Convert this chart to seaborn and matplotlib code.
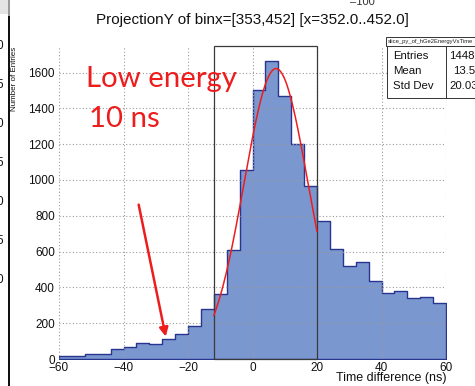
import matplotlib
matplotlib.use("Agg")
import matplotlib.pyplot as plt
import seaborn as sns
from matplotlib.patches import Rectangle
from matplotlib.lines import Line2D
from matplotlib.ticker import MultipleLocator
import numpy as np

# ---- histogram content (4 ns bins from -60 to 60 ns) ----
bin_edges = list(range(-60, 61, 4))
bin_centers = [e + 2 for e in bin_edges[:-1]]
counts = [15, 18, 28, 28, 54, 69, 88, 82, 112, 142, 183, 278, 362, 608, 1058,
          1502, 1665, 1469, 1198, 965, 769, 616, 519, 539, 433, 368, 379, 342, 349, 312]

# ---- gaussian fit over the prompt window ----
fit_amplitude = 1622.0
fit_mean = 7.3
fit_sigma = 9.9
fit_range = (-12.0, 20.0)

# ---- statistics box ----
stat_title = "slice_py_of_hGe2EnergyVsTime"
stat_names = ["Entries", "Mean", "Std Dev"]
stat_values = ["14487", "13.53", "20.03"]

title = "ProjectionY of binx=[353,452] [x=352.0..452.0]"
x_label = "Time difference (ns)"
y_label = "Number of Entries"
note_lines = ["Low energy", "10 ns"]

W, H = 475, 386
FILL = "#7b97d0"
EDGE = "#28358f"
RED = "#ee1d1d"

sns.set_style("white")
plt.rcParams["font.family"] = ["Liberation Sans", "DejaVu Sans"]

fig = plt.figure(figsize=(W / 100, H / 100), dpi=100)


def fp(x, y):
    """pixel position -> figure fraction"""
    return x / W, 1 - y / H


ax_left, ax_top, ax_right, ax_bottom = 59, 46, 446, 359
ax = fig.add_axes([ax_left / W, 1 - ax_bottom / H, (ax_right - ax_left) / W, (ax_bottom - ax_top) / H])

sns.histplot(x=bin_centers, weights=counts, bins=bin_edges, element="step", fill=True,
             color=FILL, edgecolor=EDGE, linewidth=1.0, alpha=1.0, ax=ax, zorder=2)

# fitted gaussian
xf = np.linspace(fit_range[0], fit_range[1], 200)
yf = fit_amplitude * np.exp(-0.5 * ((xf - fit_mean) / fit_sigma) ** 2)
sns.lineplot(x=xf, y=yf, color=RED, linewidth=1.1, ax=ax, zorder=4)

# fit window box
ax.add_patch(Rectangle((fit_range[0], 0), fit_range[1] - fit_range[0], 1748,
                       fill=False, edgecolor="#3a3a3a", linewidth=0.9, zorder=3, clip_on=False))

ax.set_xlim(-60, 60)
ax.set_ylim(0, 1748)
ax.set_xlabel("")
ax.set_ylabel("")
for s in ax.spines.values():
    s.set_visible(False)

ax.xaxis.set_major_locator(MultipleLocator(20))
ax.xaxis.set_minor_locator(MultipleLocator(5))
ax.yaxis.set_major_locator(MultipleLocator(200))
ax.yaxis.set_minor_locator(MultipleLocator(50))
ax.tick_params(axis="both", which="both", direction="in", color="#444444", width=0.8,
               labelsize=8.5, labelcolor="#111111")
ax.tick_params(axis="both", which="major", length=7.5)
ax.tick_params(axis="both", which="minor", length=3.5)
ax.tick_params(axis="x", pad=2)
ax.tick_params(axis="y", pad=3)
ax.grid(which="major", linestyle=(0, (1, 2)), color="#9a9a9a", linewidth=0.8)
ax.set_axisbelow(False)
for gl in ax.get_xgridlines() + ax.get_ygridlines():
    gl.set_zorder(1.5)

# arrow pointing to the low-side tail
ax.annotate("", xy=(-26.9, 125), xytext=(-35.3, 862),
            arrowprops=dict(arrowstyle="-|>", color=RED, lw=1.8, mutation_scale=13,
                            shrinkA=0, shrinkB=0), zorder=6)

# red note
fig.text(*fp(86, 87), note_lines[0], color=RED, fontsize=21.2, family="Lato",
         ha="left", va="baseline")
fig.text(*fp(89, 127), note_lines[1], color=RED, fontsize=21.2, family="Lato",
         ha="left", va="baseline")

# title and axis titles
fig.text(*fp(252, 20), title, fontsize=11, ha="center", va="center", color="#111111")
fig.text(*fp(446, 378), x_label, fontsize=9, ha="right", va="center", color="#111111")
fig.text(*fp(14.5, 47), y_label, fontsize=5.8, rotation=90, ha="center", va="top", color="#111111")

# statistics box
fig.add_artist(Rectangle(fp(386, 46), 100 / W, 9.3 / H, transform=fig.transFigure,
                         facecolor="white", edgecolor="#333333", linewidth=0.7))
fig.text(*fp(388, 41.5), stat_title, fontsize=4.2, ha="left", va="center", color="#222222")
fig.add_artist(Rectangle(fp(387, 97.5), 100 / W, 51.5 / H, transform=fig.transFigure,
                         facecolor="white", edgecolor="#333333", linewidth=0.7))
fig.add_artist(Line2D([445.7 / W, 445.7 / W], [1 - 46 / H, 1 - 97.5 / H],
                      transform=fig.transFigure, color="#333333", linewidth=0.7))
for i, (name, val) in enumerate(zip(stat_names, stat_values)):
    yy = 56 + 15 * i
    fig.text(*fp(393, yy), name, fontsize=8.2, ha="left", va="center", color="#111111")
    fig.text(*fp([449, 453, 449][i], yy), val, fontsize=8.2, ha="left", va="center", color="#111111")

# neighbouring canvas edge on the left
fig.add_artist(Rectangle((0, 1 - 14 / H), 8 / W, 14 / H, transform=fig.transFigure,
                         facecolor="#e4e4e4", edgecolor="none"))
fig.add_artist(Rectangle((7.5 / W, 1 - 16 / H), 2.5 / W, 16 / H, transform=fig.transFigure,
                         facecolor="#9a9a9a", edgecolor="none"))
fig.add_artist(Rectangle((7.5 / W, 0), 2.5 / W, 1 - 16 / H, transform=fig.transFigure,
                         facecolor="#111111", edgecolor="none"))
for k, yy in enumerate([46, 85, 124, 163, 202, 241, 280]):
    fig.text(3.5 / W, 1 - yy / H, "0" if k % 2 == 0 else "5", fontsize=8.5,
             ha="right", va="center", color="#111111")

# neighbouring canvas edge at the top right
fig.text(*fp(362, 2), "\u2013100", fontsize=8, ha="center", va="center", color="#333333")

fig.savefig("out.png", dpi=100)
